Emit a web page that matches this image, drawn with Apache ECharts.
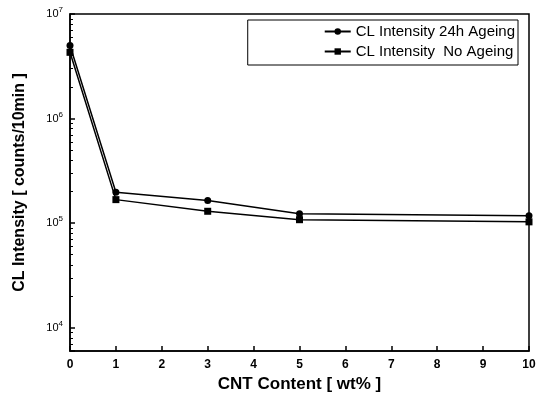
<!DOCTYPE html>
<html>
<head>
<meta charset="utf-8">
<script src="https://cdn.jsdelivr.net/npm/echarts@6/dist/echarts.min.js"></script>
<style>
  html, body { margin: 0; padding: 0; background: #fff; }
  #chart { width: 541px; height: 403px; }
</style>
</head>
<body>
<div id="chart"></div>
<script>
// CNT content (wt%)
const cntContent = [0, 1, 3, 5, 10]
// CL intensity, counts/10min
const ageing24h = [5.0e6, 1.98e5, 1.65e5, 1.23e5, 1.18e5]
const noAgeing = [4.3e6, 1.68e5, 1.30e5, 1.08e5, 1.03e5]
const seriesNames = ['CL Intensity 24h Ageing', 'CL Intensity  No Ageing']

const chart = echarts.init(document.getElementById('chart'))

const font = 'Liberation Sans, Arial, sans-serif'

const option = {
  animation: false,
  backgroundColor: '#fff',
  textStyle: { fontFamily: font, color: '#000' },
  grid: {
    left: 70,
    right: 12,
    top: 14,
    bottom: 52,
    show: true,
    borderColor: '#000',
    borderWidth: 1.5
  },
  legend: {
    right: 23,
    top: 20,
    orient: 'vertical',
    itemGap: 5,
    itemWidth: 26,
    itemHeight: 8,
    padding: [4, 3, 6, 76],
    borderColor: '#000',
    borderWidth: 1,
    textStyle: { fontFamily: font, fontSize: 15, color: '#000' },
    data: seriesNames
  },
  xAxis: {
    type: 'value',
    min: 0,
    max: 10,
    interval: 1,
    name: 'CNT Content [ wt% ]',
    nameLocation: 'middle',
    nameGap: 25,
    nameTextStyle: { fontSize: 17, fontWeight: 'bold', color: '#000' },
    axisLine: { lineStyle: { color: '#000', width: 1.5 } },
    axisTick: { inside: true, length: 5, lineStyle: { color: '#000', width: 1.5 } },
    axisLabel: { fontSize: 12, fontWeight: 'bold', color: '#000', margin: 8 },
    splitLine: { show: false }
  },
  yAxis: {
    type: 'log',
    logBase: 10,
    min: 6000,
    max: 1e7,
    name: 'CL Intensity [ counts/10min ]',
    nameLocation: 'middle',
    nameGap: 42,
    nameTextStyle: { fontSize: 16, fontWeight: 'bold', color: '#000' },
    axisLine: { lineStyle: { color: '#000', width: 1.5 } },
    axisTick: { inside: true, length: 5, lineStyle: { color: '#000', width: 1.5 } },
    minorTick: { show: true, splitNumber: 9, length: 3, lineStyle: { color: '#000', width: 1 } },
    splitLine: { show: false },
    axisLabel: {
      margin: 7,
      showMinLabel: false,
      formatter: function (v) {
        const p = Math.round(Math.log10(v))
        if (Math.abs(Math.log10(v) - p) > 1e-6) return ''
        return '{b|10}{s|' + p + '}'
      },
      rich: {
        b: { fontSize: 11, fontFamily: font, color: '#000' },
        s: { fontSize: 8, fontFamily: font, color: '#000', verticalAlign: 'bottom', padding: [0, 0, 8, 0] }
      }
    }
  },
  series: [
    {
      name: seriesNames[0],
      type: 'line',
      symbol: 'circle',
      symbolSize: 7,
      data: cntContent.map((x, i) => [x, ageing24h[i]]),
      lineStyle: { color: '#000', width: 1.5 },
      itemStyle: { color: '#000' }
    },
    {
      name: seriesNames[1],
      type: 'line',
      symbol: 'rect',
      symbolSize: 7,
      data: cntContent.map((x, i) => [x, noAgeing[i]]),
      lineStyle: { color: '#000', width: 1.5 },
      itemStyle: { color: '#000' }
    }
  ]
}

chart.setOption(option)
</script>
</body>
</html>
